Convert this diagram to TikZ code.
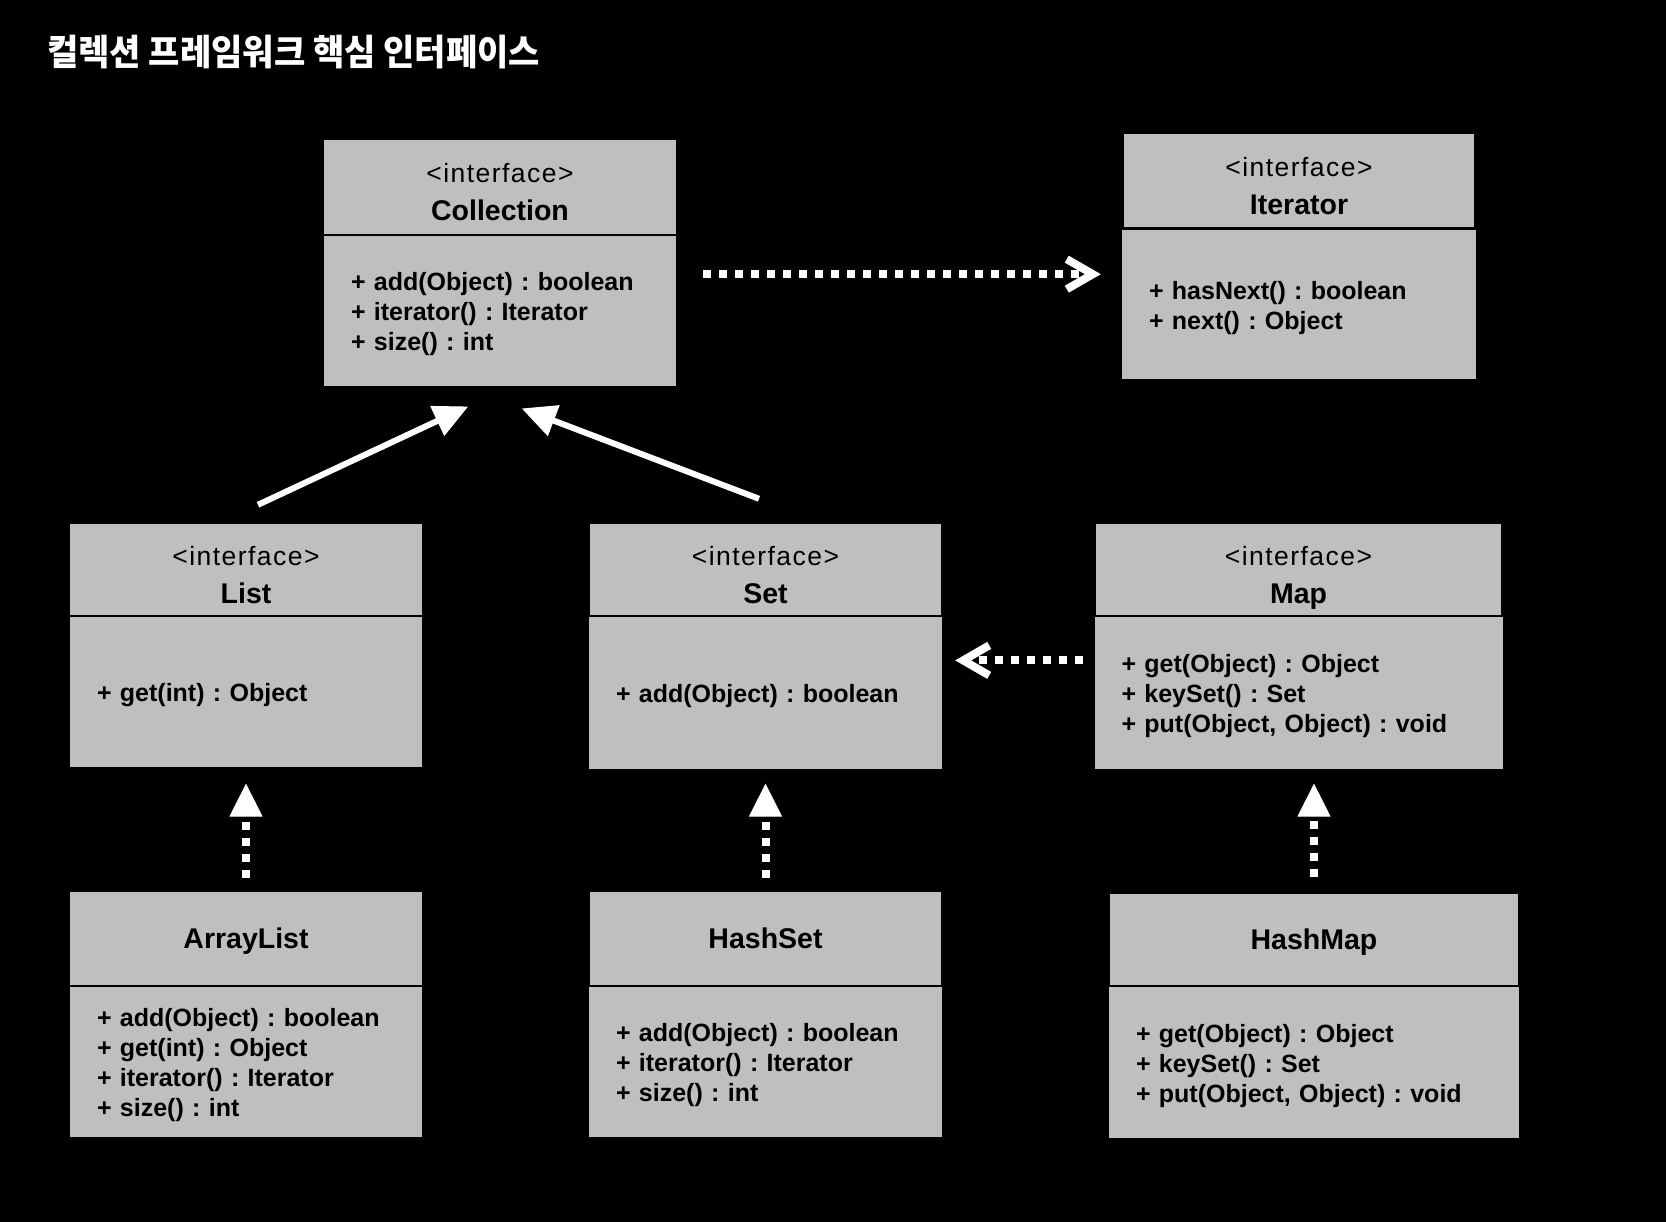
\documentclass[tikz,border=0pt]{standalone}
\usepackage{fontspec}
\setmainfont{Liberation Sans}
\newfontfamily\krfont{Noto Sans CJK KR}[FakeStretch=0.945]
\newfontfamily\stfont{Liberation Sans}[LetterSpace=5.5]
\usetikzlibrary{positioning,calc,arrows.meta}
\definecolor{boxgray}{RGB}{191,191,191}
\tikzset{hbox/.style={fill=boxgray, inner sep=0pt, minimum width=#1, minimum height=93pt, align=center, font=\fontsize{26.5}{38}\selectfont}}
\tikzset{hbox1/.style={hbox=#1, text height=21pt, text depth=0pt, font=\bfseries\fontsize{28.5}{34}\selectfont}}
\tikzset{mbox/.style={fill=boxgray, inner xsep=27pt, inner ysep=0pt, text width=#1, minimum height=150pt, align=left, font=\frenchspacing\bfseries\fontsize{25}{30}\selectfont, execute at begin node=\rule{0pt}{24pt}}}
\tikzset{gen/.style={draw=white, line width=6pt, -{Triangle[length=34pt,width=33pt,line width=1pt]}}}
\tikzset{real/.style={draw=white, line width=8pt, dash pattern=on 8pt off 8pt, -{Triangle[length=33pt,width=33pt,line width=1pt]}}}
\tikzset{dep/.style={draw=white, line width=8pt, dash pattern=on 8pt off 8pt, -{Straight Barb[length=26pt,width=30pt]}}}
\newcommand{\ifc}[1]{\rule{0pt}{37pt}{\stfont <interface>}\\{\bfseries\fontsize{28.5}{38}\selectfont #1}\rule[-7pt]{0pt}{7pt}}
\begin{document}
\begin{tikzpicture}[x=1pt,y=1pt]
\useasboundingbox (0,0) rectangle (1666,1222);
\fill[black] (0,0) rectangle (1666,1222);
\node[anchor=base west, inner sep=0pt, text=white, font={\krfont\bfseries\fontsize{36}{40}\selectfont}] (title) at (47,1156.5) {컬렉션 프레임워크 핵심 인터페이스};
% interfaces
\node[hbox=352pt, minimum height=94pt] (colH) at (500,1035) {\ifc{Collection}};
\node[mbox=298pt, below=2pt of colH] (colB) {+ add(Object) : boolean\\+ iterator() : Iterator\\+ size() : int};
\node[hbox=350pt] (itH) at (1299,1041.5) {\ifc{Iterator}};
\node[mbox=300pt, minimum height=149pt, below=3pt of itH] (itB) {+ hasNext() : boolean\\+ next() : Object};
\node[hbox=352pt, minimum height=91pt] (listH) at (246,652.5) {\ifc{List}};
\node[mbox=298pt, below=2pt of listH] (listB) {+ get(int) : Object};
\node[hbox=351pt, minimum height=91pt] (setH) at (765.5,652.5) {\ifc{Set}};
\node[mbox=299pt, minimum height=152pt, below=2pt of setH] (setB) {+ add(Object) : boolean};
\node[hbox=405pt, minimum height=91pt] (mapH) at (1298.5,652.5) {\ifc{Map}};
\node[mbox=354pt, minimum height=152pt, below=2pt of mapH] (mapB) {+ get(Object) : Object\\+ keySet() : Set\\+ put(Object, Object) : void};
% classes
\node[hbox1=352pt] (alH) at (246,283.5) {ArrayList};
\node[mbox=298pt, below=2pt of alH] (alB) {+ add(Object) : boolean\\+ get(int) : Object\\+ iterator() : Iterator\\+ size() : int};
\node[hbox1=351pt] (hsH) at (765.5,283.5) {HashSet};
\node[mbox=299pt, below=2pt of hsH] (hsB) {+ add(Object) : boolean\\+ iterator() : Iterator\\+ size() : int};
\node[hbox1=408pt, minimum height=91pt] (hmH) at (1314,282.5) {HashMap};
\node[mbox=356pt, minimum height=151pt, below=2pt of hmH] (hmB) {+ get(Object) : Object\\+ keySet() : Set\\+ put(Object, Object) : void};
% connectors
\draw[gen] ($(listH.north)+(12,19)$) -- ($(colB.south)+(-32,-20)$);
\draw[gen] ($(setH.north)+(-6.5,25)$) -- ($(colB.south)+(22,-22)$);
\draw[dep] ($(colB.north east)+(27,-38)$) -- ($(itB.north west)+(-21,-44)$);
\draw[dep] ($(mapB.west)+(-11,33)$) -- ($(setB.east)+(13,33)$);
\draw[real, shorten <=14pt, shorten >=16pt] (alH.north) -- (listB.south);
\draw[real, shorten <=14pt, shorten >=14pt] (hsH.north) -- (setB.south);
\draw[real, shorten <=17pt, shorten >=14pt] (hmH.north) -- (hmH.north |- mapB.south);
\end{tikzpicture}
\end{document}
